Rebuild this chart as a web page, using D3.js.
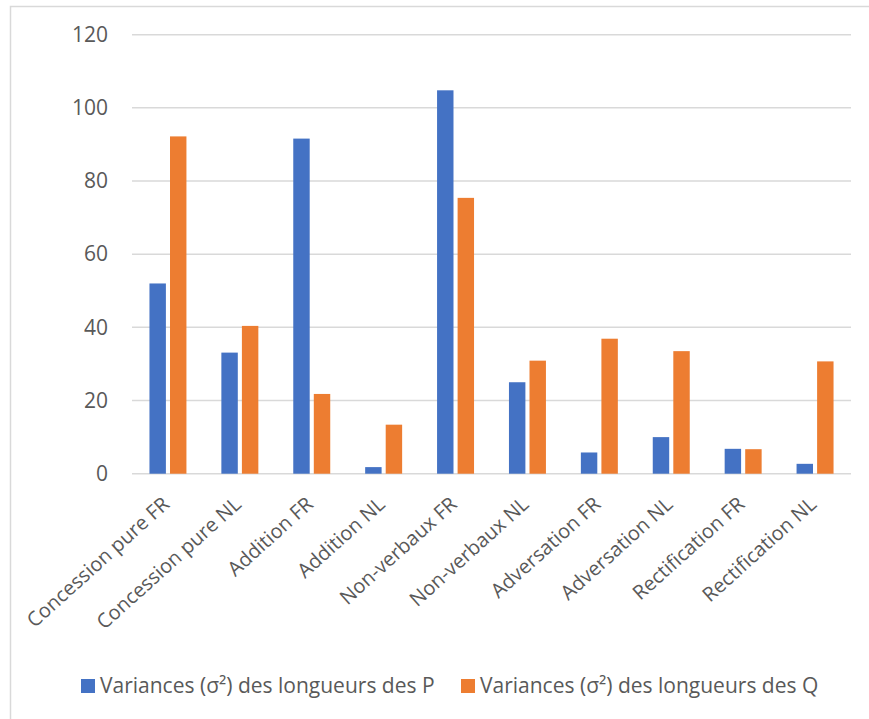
<!DOCTYPE html>
<html>
<head>
<meta charset="utf-8">
<script src="https://cdn.jsdelivr.net/npm/d3@7"></script>
<style>
  body { margin: 0; background: #fff; }
  svg { display: block; }
  text { font-family: "Open Sans", sans-serif; fill: #595959; }
</style>
</head>
<body>
<svg id="chart" width="869" height="719"></svg>
<script>
// Categories (connective type × language)
const categories = [
  "Concession pure FR", "Concession pure NL", "Addition FR", "Addition NL",
  "Non-verbaux FR", "Non-verbaux NL", "Adversation FR", "Adversation NL",
  "Rectification FR", "Rectification NL"
];
const seriesNames = [
  "Variances (σ²) des longueurs des P",
  "Variances (σ²) des longueurs des Q"
];
const varianceP = [52.0, 33.1, 91.6, 1.8, 104.8, 25.0, 5.8, 10.0, 6.8, 2.7];
const varianceQ = [92.2, 40.4, 21.8, 13.4, 75.4, 30.9, 36.9, 33.5, 6.7, 30.7];
const yTicks = [0, 20, 40, 60, 80, 100, 120];
const colors = ["#4472C4", "#ED7D31"];

const FONT = "'Open Sans', sans-serif";
const FONT_SIZE = 21;
const LABEL_SIZE = 20;

const svg = d3.select("#chart");

// Chart frame
svg.append("rect")
  .attr("x", 10.5).attr("y", 6.5)
  .attr("width", 880).attr("height", 730)
  .attr("fill", "none").attr("stroke", "#d9d9d9").attr("stroke-width", 1.5);

const plot = { left: 132, right: 851, top: 34.7, bottom: 473.7 };

const y = d3.scaleLinear().domain([0, 120]).range([plot.bottom, plot.top]);
const x0 = d3.scaleBand().domain(categories).range([plot.left, plot.right]);
const x1 = d3.scaleBand().domain(seriesNames)
  .range([0, x0.bandwidth()]).paddingInner(0.2).paddingOuter(0.85);

// Horizontal gridlines
svg.append("g")
  .selectAll("line")
  .data(yTicks)
  .join("line")
  .attr("x1", plot.left).attr("x2", plot.right)
  .attr("y1", d => y(d)).attr("y2", d => y(d))
  .attr("stroke", "#d9d9d9").attr("stroke-width", 1.5);

// Y axis labels
const yAxis = d3.axisLeft(y).tickValues(yTicks).tickSize(0).tickPadding(0);
svg.append("g")
  .attr("transform", "translate(108,0)")
  .call(yAxis)
  .call(g => g.select(".domain").remove())
  .call(g => g.selectAll("text")
    .attr("font-family", FONT)
    .attr("font-size", FONT_SIZE)
    .attr("fill", "#595959"));

// Bars
const rows = categories.map((c, i) => ({ cat: c, vals: [varianceP[i], varianceQ[i]] }));
svg.append("g")
  .selectAll("g")
  .data(rows)
  .join("g")
  .attr("transform", d => `translate(${x0(d.cat)},0)`)
  .selectAll("rect")
  .data(d => d.vals.map((v, j) => ({ name: seriesNames[j], v, j })))
  .join("rect")
  .attr("x", d => x1(d.name))
  .attr("width", x1.bandwidth())
  .attr("y", d => y(d.v))
  .attr("height", d => y(0) - y(d.v))
  .attr("fill", d => colors[d.j]);

// Category labels, rotated
const xAxis = d3.axisBottom(x0).tickSize(0).tickPadding(0);
svg.append("g")
  .attr("transform", `translate(0,${plot.bottom})`)
  .call(xAxis)
  .call(g => g.select(".domain").remove())
  .call(g => g.selectAll("text")
    .attr("font-family", FONT)
    .attr("font-size", LABEL_SIZE)
    .attr("fill", "#595959")
    .attr("text-anchor", "end")
    .attr("y", 0).attr("dy", "0.35em")
    .attr("transform", "translate(-2,27) rotate(-42)"));

// Legend
const legendX = [81, 461];
const legend = svg.append("g")
  .selectAll("g")
  .data(seriesNames)
  .join("g")
  .attr("transform", (d, i) => `translate(${legendX[i]},679)`);
legend.append("rect")
  .attr("width", 14).attr("height", 14)
  .attr("fill", (d, i) => colors[i]);
legend.append("text")
  .attr("x", 19).attr("y", 14)
  .attr("font-family", FONT)
  .attr("font-size", FONT_SIZE)
  .text(d => d);
</script>
</body>
</html>
